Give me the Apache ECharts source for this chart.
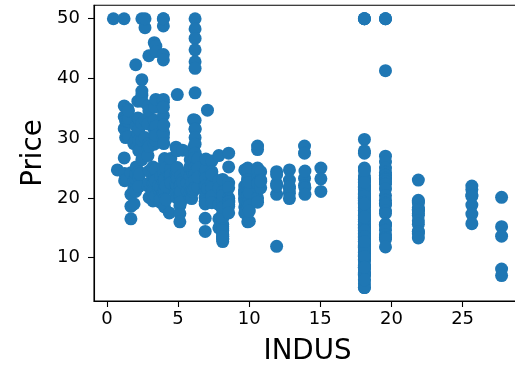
<!DOCTYPE html>
<html>
<head>
<meta charset="utf-8">
<script src="https://cdn.jsdelivr.net/npm/echarts@6/dist/echarts.min.js"></script>
<style>
  html, body { margin: 0; padding: 0; background: #fff; overflow: hidden; }
  #chart { width: 530px; height: 369px; }
</style>
</head>
<body>
<div id="chart"></div>
<script>
// INDUS levels and the Price values observed at each level
const indusLevels = [
  0.46, 0.74, 1.21, 1.22, 1.25, 1.32, 1.38, 1.47, 1.52, 1.69, 1.89, 1.91,
  2.01, 2.02, 2.03, 2.06, 2.18, 2.24, 2.25, 2.31, 2.46, 2.68, 2.89, 2.93,
  2.95, 2.97, 3.24, 3.33, 3.37, 3.41, 3.44, 3.64, 3.75, 3.78, 3.97, 4.0,
  4.05, 4.15, 4.39, 4.49, 4.86, 4.93, 4.95, 5.13, 5.19, 5.32, 5.64, 5.86,
  5.96, 6.06, 6.07, 6.09, 6.2, 6.41, 6.91, 6.96, 7.07, 7.38, 7.87, 8.14,
  8.56, 9.69, 9.9, 10.01, 10.59, 10.81, 11.93, 12.83, 13.89, 13.92, 15.04,
  18.1, 19.58, 21.89, 25.65, 27.74
];
const pricesByLevel = [
  [50.0],
  [24.7],
  [50.0],
  [35.4, 33.6, 31.6, 26.7],
  [22.9, 24.1],
  [32.9, 30.1],
  [23.1],
  [34.9, 32.9],
  [33.3, 30.3, 34.6],
  [24.2, 20.6, 18.6, 16.5],
  [29.1, 21.4],
  [21.9, 19.0, 22.9],
  [29.6, 23.2],
  [21.1],
  [24.1, 42.3],
  [32.0, 25.2],
  [33.4, 36.2, 28.7, 30.8],
  [29.6, 27.9, 23.5, 21.9],
  [33.2, 31.5, 24.4],
  [24.0],
  [37.2, 39.8, 36.2, 37.9, 32.5, 26.4, 29.6, 50.0],
  [48.5, 50.0, 30.1, 33.1],
  [35.4, 32.4, 28.4, 27.1, 22.0],
  [29.1],
  [34.6, 43.8],
  [28.6, 24.5, 22.5, 20.1],
  [25.2, 22.5, 21.0, 19.5],
  [46.0, 31.5, 33.0, 29.0, 22.6],
  [35.2, 30.5, 23.7],
  [23.0, 24.8, 22.9, 20.3],
  [45.4, 44.5, 32.0, 29.6, 30.5, 36.5],
  [21.5, 22.1],
  [20.0, 19.3],
  [23.6, 21.8, 19.8],
  [44.0, 50.0, 36.0, 30.1, 33.8, 43.1, 48.8, 31.0, 36.5, 22.8, 30.7, 50.0, 20.7, 21.1, 25.2, 24.4, 35.2],
  [32.2, 29.1, 24.1],
  [21.2, 19.8, 23.1, 26.6, 22.2, 26.2, 18.5, 23.0],
  [19.7, 22.0, 25.0],
  [17.5, 23.9],
  [23.9, 24.8, 22.9, 23.9, 26.6, 22.5],
  [28.5, 23.9, 22.3, 21.2, 20.7],
  [25.0, 23.7, 22.0, 20.0, 22.0, 28.0],
  [37.3, 27.9, 23.4, 24.6, 25.1],
  [20.4, 18.7, 17.4, 16.0, 22.0],
  [23.7, 21.0, 20.4, 22.2, 21.1, 19.3],
  [28.0, 23.1, 22.6],
  [23.1, 24.3, 21.2, 22.5],
  [21.9, 20.1, 24.8, 26.4, 27.5, 23.7, 20.9, 25.3],
  [24.7, 21.3, 19.9, 22.6],
  [24.8, 21.1],
  [24.1, 21.4],
  [26.4, 33.1, 28.4],
  [50.0, 48.3, 46.7, 44.8, 42.8, 41.7, 37.6, 33.0, 31.6, 31.5, 30.1, 29.0, 27.5, 26.7, 25.1, 24.3, 24.0, 23.0, 21.7],
  [26.6, 25.0, 21.8, 23.5],
  [24.2, 22.0, 21.1, 20.1, 19.4, 19.0, 16.6, 14.4],
  [24.7, 26.5, 23.3, 22.0],
  [21.6, 34.7],
  [26.2, 22.5, 24.4, 20.8, 21.7, 20.3, 19.2, 23.9],
  [22.9, 27.1, 16.5, 18.9, 15.0, 18.9, 21.7],
  [18.2, 19.9, 23.1, 17.5, 20.2, 18.2, 13.6, 19.6, 15.2, 14.5, 15.6, 13.9, 16.6, 14.8, 18.4, 21.0, 12.7, 14.5, 13.2, 13.1, 13.5, 20.4],
  [27.5, 25.2, 22.5, 21.7, 20.0, 19.9, 19.6, 19.4, 19.3, 18.9, 18.6, 17.5],
  [24.7, 21.4, 18.5, 20.0, 21.0, 22.0, 19.5, 20.6, 19.9, 17.5, 21.2, 20.7],
  [21.0, 23.8, 23.1, 20.4, 18.5, 25.0, 24.6, 23.0, 22.2, 19.3, 22.6, 16.0],
  [21.2, 19.4, 19.7, 18.7, 20.9, 22.6, 16.1, 17.8],
  [28.7, 28.1, 25.0, 24.4, 23.3, 22.6, 22.5, 21.7, 20.0, 19.3, 22.4],
  [24.4, 23.0, 21.7, 22.8],
  [24.4, 22.4, 20.6, 23.9, 22.0, 11.9],
  [24.7, 23.0, 21.6, 20.8, 19.9, 21.9],
  [28.7, 27.5, 23.3, 22.1],
  [24.5, 21.7, 20.6],
  [25.0, 23.2, 21.1],
  [50.0, 50.0, 50.0, 50.0, 29.8, 27.9, 27.5, 25.0, 23.7, 23.2, 22.7, 21.9, 21.7, 21.4, 20.8, 20.6,
   20.1, 20.0, 19.9, 19.9, 19.7, 19.5, 19.1, 19.0, 18.8, 18.4, 17.9, 17.8, 17.2, 16.7, 16.4, 16.1,
   15.6, 15.4, 15.2, 15.1, 15.0, 14.9, 14.6, 14.3, 14.1, 14.0, 13.8, 13.6, 13.4, 13.3, 13.1, 12.8,
   12.7, 12.5, 12.3, 12.1, 12.0, 11.9, 11.8, 11.7, 11.5, 11.3, 11.0, 10.9, 10.8, 10.5, 10.4, 10.2,
   9.7, 9.6, 9.5, 8.8, 8.7, 8.5, 8.4, 8.3, 8.1, 7.5, 7.4, 7.2, 7.0, 6.3, 5.6, 5.0, 5.0, 7.2, 10.5,
   11.7, 13.8, 15.6, 17.1, 19.6, 21.2, 23.1, 22.2, 21.8, 20.3, 19.3, 18.5, 17.5, 16.3, 14.5, 13.5,
   12.7, 10.2, 8.4, 6.3, 16.8, 23.0, 24.5, 19.0, 22.6],
  [50.0, 50.0, 50.0, 41.3, 27.0, 26.0, 25.0, 24.3, 23.8, 23.8, 23.3, 23.1, 22.7, 22.3, 21.5, 20.4,
   19.6, 19.1, 18.8, 17.8, 17.4, 15.6, 15.6, 15.4, 14.6, 13.8, 13.4, 13.1, 11.8],
  [23.0, 19.6, 19.4, 19.2, 18.4, 18.1, 18.0, 17.8, 17.4, 17.1, 16.2, 15.6, 14.4, 14.3, 14.0, 13.3],
  [22.0, 21.4, 20.5, 20.3, 18.8, 17.3, 15.7],
  [20.1, 15.2, 13.6, 8.1, 7.0]
];
const xTicks = [0, 5, 10, 15, 20, 25];
const yTicks = [10, 20, 30, 40, 50];
const xTitle = 'INDUS';
const yTitle = 'Price';

const points = [];
indusLevels.forEach((x, i) => {
  pricesByLevel[i].forEach(y => points.push([x, y]));
});

const chart = echarts.init(document.getElementById('chart'), null, { renderer: 'canvas' });
const axisColor = '#000';
const font = 'DejaVu Sans';
chart.setOption({
  animation: false,
  backgroundColor: '#fff',
  grid: {
    left: 94, top: 5.3, width: 427, height: 295.7,
    show: true, borderColor: axisColor, borderWidth: 1.1
  },
  xAxis: {
    type: 'value', min: -0.904, max: 29.104,
    splitLine: { show: false },
    axisLine: { onZero: false, lineStyle: { color: axisColor, width: 1.1 } },
    axisTick: { customValues: xTicks, length: 6, lineStyle: { color: axisColor, width: 1.1 } },
    axisLabel: { customValues: xTicks, fontFamily: font, fontSize: 18, color: '#000', margin: 9 }
  },
  yAxis: {
    type: 'value', min: 2.75, max: 52.25,
    splitLine: { show: false },
    axisLine: { onZero: false, lineStyle: { color: axisColor, width: 1.1 } },
    axisTick: { customValues: yTicks, length: 6, lineStyle: { color: axisColor, width: 1.1 } },
    axisLabel: { customValues: yTicks, fontFamily: font, fontSize: 18, color: '#000', margin: 14 }
  },
  graphic: [
    { type: 'text', x: 307.5, y: 351.7,
      style: { text: xTitle, fontFamily: font, fontSize: 27.7, fill: '#000', align: 'center', verticalAlign: 'middle' } },
    { type: 'text', x: 33.5, y: 153, rotation: Math.PI / 2,
      style: { text: yTitle, fontFamily: font, fontSize: 27.7, fill: '#000', align: 'center', verticalAlign: 'middle' } }
  ],
  series: [{
    type: 'scatter',
    data: points,
    symbolSize: 13,
    itemStyle: { color: '#1f77b4', opacity: 1 },
    clip: true
  }]
});
</script>
</body>
</html>
